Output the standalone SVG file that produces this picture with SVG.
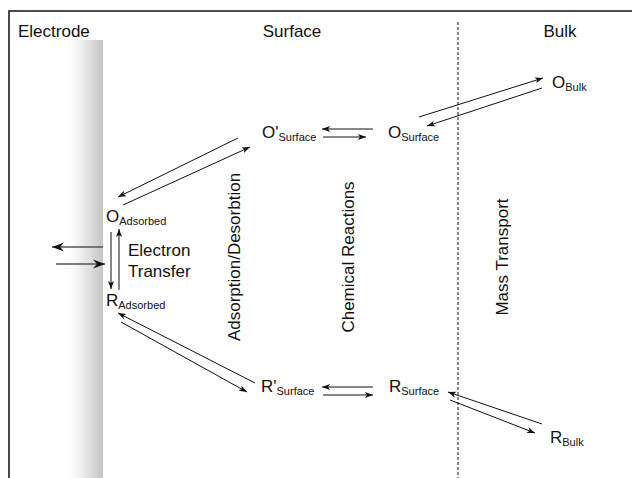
<svg xmlns="http://www.w3.org/2000/svg" width="632" height="478" viewBox="0 0 632 478">
<style>
.t{font-family:"Liberation Sans",Arial,sans-serif;fill:#111}
.big{font-size:17px}
.sub{font-size:11px}
.ln{stroke:#111;stroke-width:1;fill:none;marker-end:url(#ah)}
.ln2{stroke:#555;stroke-width:1.6;fill:none;marker-end:url(#ah2)}
</style>
<defs>
<linearGradient id="eg" x1="0" y1="0" x2="1" y2="0">
<stop offset="0" stop-color="#ffffff"/>
<stop offset="0.35" stop-color="#eeeeee"/>
<stop offset="1" stop-color="#c4c4c4"/>
</linearGradient>
<marker id="ah" markerUnits="userSpaceOnUse" markerWidth="12" markerHeight="8" viewBox="-9 -4 10 8" refX="0" refY="0" orient="auto">
<path d="M0,0 L-8,-3 L-6,0 L-8,3 Z" fill="#111"/>
</marker>
<marker id="ah2" markerUnits="userSpaceOnUse" markerWidth="16" markerHeight="10" viewBox="-13 -5 14 10" refX="0" refY="0" orient="auto">
<path d="M0,0 L-12,-4.5 L-8,0 L-12,4.5 Z" fill="#111"/>
</marker>
</defs>
<rect width="632" height="478" fill="#fff"/>
<g id="frame">
<path d="M9,478 V11 H632" stroke="#111" stroke-width="1.5" fill="none"/>
<line x1="458" y1="22" x2="458" y2="478" stroke="#111" stroke-width="1" stroke-dasharray="3,2"/>
</g>
<g id="electrode">
<rect x="70" y="40" width="33" height="438" fill="url(#eg)"/>
</g>
<g id="headers">
<text class="t big" x="18" y="37">Electrode</text>
<text class="t big" x="292" y="37" text-anchor="middle">Surface</text>
<text class="t big" x="560" y="37" text-anchor="middle">Bulk</text>
</g>
<g id="process-labels">
<text class="t big" x="128" y="256">Electron</text>
<text class="t big" x="128" y="277">Transfer</text>
<text class="t big" transform="translate(240,257) rotate(-90)" text-anchor="middle">Adsorption/Desorbtion</text>
<text class="t big" transform="translate(354,257) rotate(-90)" text-anchor="middle">Chemical Reactions</text>
<text class="t big" transform="translate(508,257) rotate(-90)" text-anchor="middle">Mass Transport</text>
</g>
<g id="O-adsorbed"><text class="t big" x="106" y="222">O<tspan class="sub" dy="3">Adsorbed</tspan></text></g>
<g id="R-adsorbed"><text class="t big" x="106" y="306">R<tspan class="sub" dy="3">Adsorbed</tspan></text></g>
<g id="O-prime-surface"><text class="t big" x="262" y="138">O'<tspan class="sub" dy="3">Surface</tspan></text></g>
<g id="O-surface"><text class="t big" x="388" y="138">O<tspan class="sub" dy="3">Surface</tspan></text></g>
<g id="O-bulk"><text class="t big" x="552" y="88">O<tspan class="sub" dy="3">Bulk</tspan></text></g>
<g id="R-prime-surface"><text class="t big" x="261" y="392">R'<tspan class="sub" dy="3">Surface</tspan></text></g>
<g id="R-surface"><text class="t big" x="389" y="392">R<tspan class="sub" dy="3">Surface</tspan></text></g>
<g id="R-bulk"><text class="t big" x="550" y="443">R<tspan class="sub" dy="3">Bulk</tspan></text></g>
<g id="connectors">
<line class="ln2" x1="103" y1="247" x2="52" y2="247"/>
<line class="ln2" x1="56" y1="264" x2="105" y2="264"/>
<line class="ln" x1="111" y1="232" x2="111" y2="289"/>
<line class="ln" x1="119" y1="290" x2="119" y2="229"/>
<line class="ln" x1="238" y1="138" x2="118" y2="197"/>
<line class="ln" x1="123" y1="205" x2="250" y2="147"/>
<line class="ln" x1="373" y1="129" x2="322" y2="129"/>
<line class="ln" x1="323" y1="137" x2="366" y2="137"/>
<line class="ln" x1="419" y1="117" x2="543" y2="78"/>
<line class="ln" x1="542" y1="88" x2="427" y2="126"/>
<line class="ln" x1="255" y1="383" x2="118" y2="313"/>
<line class="ln" x1="121" y1="322" x2="247" y2="392"/>
<line class="ln" x1="373" y1="387" x2="322" y2="387"/>
<line class="ln" x1="323" y1="395" x2="373" y2="395"/>
<line class="ln" x1="542" y1="424" x2="448" y2="392"/>
<line class="ln" x1="450" y1="400" x2="535" y2="433"/>
</g>
</svg>
